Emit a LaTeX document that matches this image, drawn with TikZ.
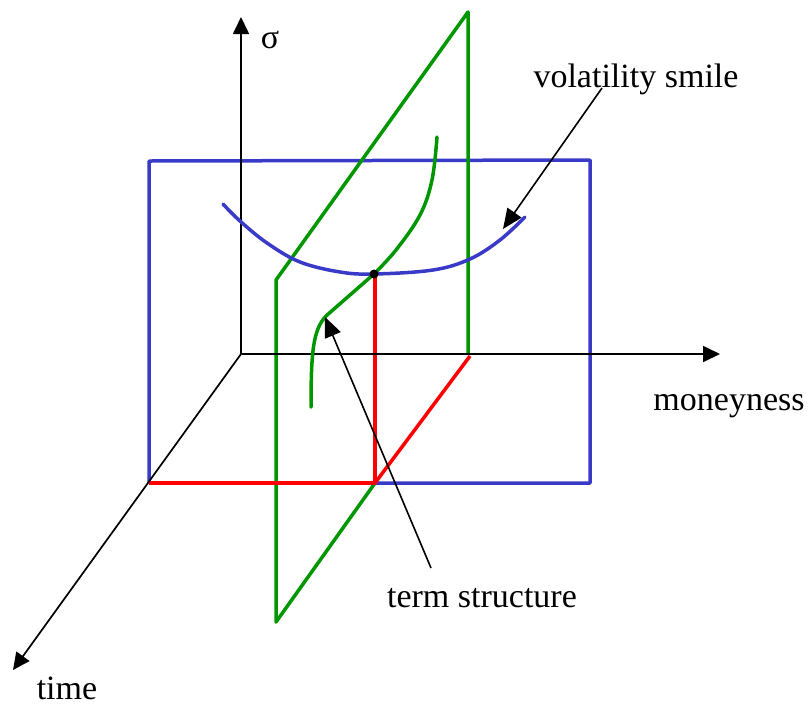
\documentclass[tikz,border=0pt]{standalone}
\usepackage{fontspec}
\setmainfont{Liberation Serif}
\usetikzlibrary{arrows.meta}
\definecolor{pblue}{RGB}{58,58,200}
\definecolor{pgreen}{RGB}{0,150,0}
\definecolor{pred}{RGB}{255,0,0}
\begin{document}
\begin{tikzpicture}[x=1pt,y=-1pt,
  axis/.style={black,line width=1.7pt,-{Triangle[length=17pt,width=16pt]}},
  bluel/.style={pblue,line width=3.5pt},
  greenl/.style={pgreen,line width=3.5pt},
  redl/.style={pred,line width=3.5pt},
  pointer/.style={black,line width=1.6pt,-{Triangle[length=20pt,width=17pt]}},
  lbl/.style={font=\fontsize{34}{40}\selectfont,inner sep=0pt}]
\useasboundingbox (0,0) rectangle (808,705);
% coordinates
\coordinate (O) at (241,354);
\coordinate (sigtip) at (241,17);
\coordinate (montip) at (720,354);
\coordinate (timetip) at (13,670);
\coordinate (BL) at (149,483);
\coordinate (BM) at (375,483);
\coordinate (BR) at (590,483);
\coordinate (TR) at (590,160);
\coordinate (TL) at (149,161);
\coordinate (Gb) at (276,622);
\coordinate (Gl) at (276,280);
\coordinate (Gt) at (468,12);
\coordinate (Gr) at (468,354);
\coordinate (Rt) at (375,274);
\coordinate (Rd) at (470,356);
\coordinate (dot) at (374,274);
\coordinate (kink) at (326,316);
% blue plane
\draw[bluel,line join=round] (BM) -- (BR) -- (TR) -- (TL) -- (BL);
% green plane
\draw[greenl,line join=round] (BM) -- (Gb) -- (Gl) -- (Gt) -- (Gr);
% red lines
\draw[redl,line join=round] (BL) -- (BM) -- (Rt);
\draw[redl] (BM) -- (Rd);
% axes
\draw[axis] (O) -- (sigtip);
\draw[axis] (O) -- (montip);
\draw[axis] (O) -- (timetip);
% smile curve
\draw[pblue,line width=3.5pt,line cap=round] plot[smooth,tension=0.6] coordinates
  {(223,204) (240,221) (267,243) (300,262) (340,272) (374,274) (433,270) (470,259) (500,240) (525,217)};
% term structure curve
\draw[pgreen,line width=3.5pt,line cap=round,line join=round]
  plot[smooth,tension=0.6] coordinates {(437,137) (432,180) (420,215) (396,250) (374,274)}
  -- (kink) .. controls (313,330) and (311,352) .. (311,407);
\fill[black] (dot) circle (4.5);
% labels
\node[lbl] (sig) at (270,40) {σ};
\node[lbl] (mon) at (729,406) {moneyness};
\node[lbl,anchor=base] (time) at (67,699) {time};
\node[lbl,anchor=base] (vs) at (636,87) {volatility smile};
\node[lbl,anchor=base] (ts) at (482,607) {term structure};
% pointers
\coordinate (vsfrom) at (602,88);
\coordinate (vstip) at (503,229);
\coordinate (tsfrom) at (431,568);
\coordinate (tstip) at (325,317);
\draw[pointer] (vsfrom) -- (vstip);
\draw[pointer] (tsfrom) -- (tstip);
\end{tikzpicture}
\end{document}
